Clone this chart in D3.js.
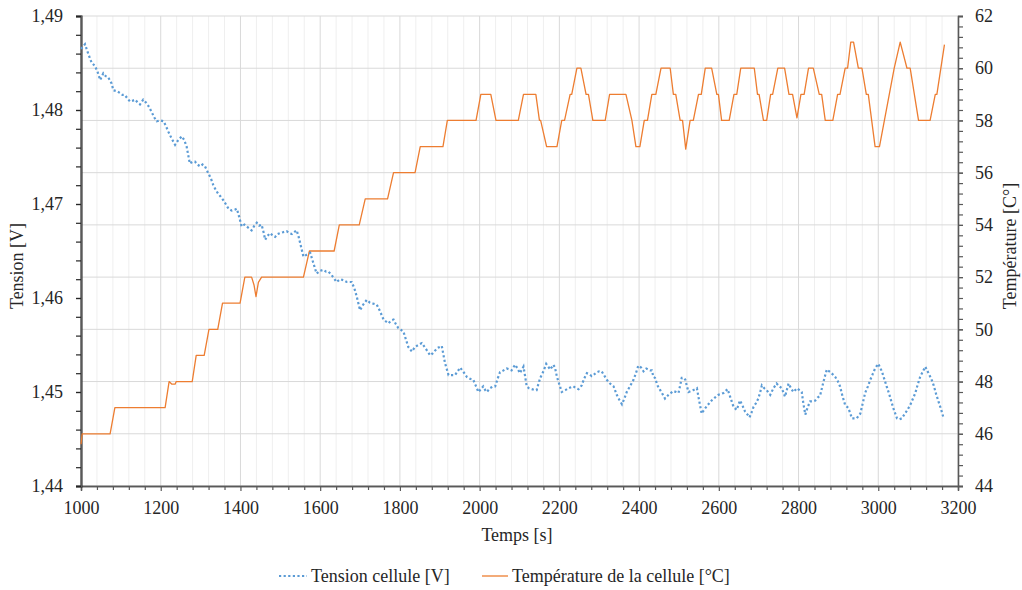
<!DOCTYPE html>
<html><head><meta charset="utf-8">
<script src="https://cdn.jsdelivr.net/npm/d3@7"></script>
<style>
body{margin:0;background:#fff;}
text{font-family:"Liberation Serif","Times New Roman",serif;fill:#262626;}
</style></head><body>
<svg id="c" width="1022" height="590"></svg>
<script>
// ---- data ----
const xTicks = [1000,1200,1400,1600,1800,2000,2200,2400,2600,2800,3000,3200];
const vTicks = [1.44,1.45,1.46,1.47,1.48,1.49];
const vTickLabels = ["1,44","1,45","1,46","1,47","1,48","1,49"];
const tTicks = [44,46,48,50,52,54,56,58,60,62];
const seriesNames = ["Tension cellule [V]","Température de la cellule [°C]"];

const voltTime = [1000,1002,1010,1018,1027,1035,1042,1048,1056,1062,1068,1077,1081,1090,1098,1104,1110,1117,1123,1130,1136,1142,1148,1156,1165,1171,1177,1184,1190,1198,1207,1213,1219,1227,1236,1244,1253,1259,1265,1273,1280,1286,1292,1299,1305,1311,1319,1326,1332,1338,1344,1350,1357,1363,1370,1378,1386,1391,1397,1403,1410,1416,1422,1428,1435,1441,1447,1453,1458,1462,1468,1474,1480,1487,1493,1499,1507,1516,1522,1529,1535,1541,1546,1550,1554,1558,1566,1575,1583,1591,1600,1608,1615,1621,1627,1633,1641,1650,1658,1667,1679,1686,1692,1700,1708,1717,1725,1733,1742,1750,1759,1765,1771,1778,1784,1790,1796,1803,1809,1815,1821,1830,1838,1846,1855,1865,1876,1882,1888,1895,1905,1913,1922,1930,1938,1945,1951,1960,1968,1976,1984,1990,1997,2005,2009,2014,2018,2026,2034,2039,2045,2051,2060,2068,2075,2080,2089,2095,2101,2110,2114,2118,2124,2131,2139,2143,2147,2152,2160,2167,2172,2177,2185,2189,2194,2200,2206,2215,2223,2229,2235,2242,2248,2256,2262,2269,2275,2281,2288,2294,2300,2306,2312,2319,2327,2336,2344,2350,2357,2363,2369,2377,2386,2392,2398,2405,2411,2418,2428,2432,2436,2440,2446,2453,2460,2465,2474,2480,2486,2493,2499,2503,2507,2512,2516,2520,2524,2530,2536,2545,2551,2557,2563,2570,2576,2582,2590,2599,2606,2612,2622,2630,2637,2645,2653,2660,2666,2672,2677,2682,2687,2693,2699,2704,2708,2714,2720,2729,2737,2745,2752,2758,2766,2775,2781,2787,2796,2802,2808,2812,2817,2823,2829,2836,2842,2848,2854,2862,2867,2871,2877,2883,2892,2898,2904,2910,2917,2925,2934,2940,2946,2955,2961,2967,2974,2980,2986,2992,3000,3009,3015,3021,3028,3034,3040,3047,3053,3059,3067,3073,3080,3086,3093,3099,3105,3112,3118,3126,3133,3139,3145,3151,3158,3164];
const voltValue = [1.4865,1.4866,1.4870,1.4860,1.4850,1.4847,1.4840,1.4832,1.4839,1.4836,1.4835,1.4828,1.4821,1.4820,1.4818,1.4816,1.4816,1.4812,1.4809,1.4810,1.4811,1.4808,1.4806,1.4811,1.4807,1.4803,1.4798,1.4792,1.4788,1.4789,1.4788,1.4783,1.4777,1.4770,1.4763,1.4768,1.4772,1.4768,1.4761,1.4743,1.4745,1.4745,1.4742,1.4740,1.4742,1.4740,1.4733,1.4727,1.4720,1.4715,1.4711,1.4708,1.4704,1.4700,1.4695,1.4693,1.4694,1.4695,1.4686,1.4676,1.4678,1.4676,1.4674,1.4672,1.4677,1.4680,1.4677,1.4678,1.4670,1.4662,1.4666,1.4669,1.4667,1.4665,1.4668,1.4669,1.4670,1.4671,1.4669,1.4668,1.4670,1.4672,1.4665,1.4658,1.4651,1.4644,1.4646,1.4648,1.4637,1.4626,1.4629,1.4630,1.4628,1.4628,1.4625,1.4622,1.4617,1.4620,1.4619,1.4617,1.4617,1.4610,1.4601,1.4587,1.4593,1.4598,1.4595,1.4594,1.4593,1.4586,1.4577,1.4575,1.4573,1.4576,1.4577,1.4572,1.4568,1.4566,1.4564,1.4556,1.4548,1.4543,1.4548,1.4550,1.4552,1.4546,1.4539,1.4541,1.4544,1.4547,1.4549,1.4531,1.4518,1.4518,1.4518,1.4522,1.4526,1.4521,1.4516,1.4514,1.4513,1.4507,1.4500,1.4504,1.4506,1.4502,1.4500,1.4504,1.4506,1.4506,1.4514,1.4521,1.4523,1.4525,1.4524,1.4523,1.4529,1.4525,1.4520,1.4527,1.4517,1.4506,1.4504,1.4503,1.4502,1.4502,1.4508,1.4515,1.4522,1.4530,1.4527,1.4524,1.4529,1.4526,1.4516,1.4508,1.4500,1.4502,1.4504,1.4505,1.4506,1.4504,1.4503,1.4507,1.4514,1.4520,1.4519,1.4517,1.4519,1.4521,1.4522,1.4522,1.4518,1.4513,1.4509,1.4506,1.4497,1.4492,1.4487,1.4493,1.4500,1.4506,1.4513,1.4520,1.4528,1.4526,1.4522,1.4525,1.4523,1.4523,1.4516,1.4515,1.4507,1.4502,1.4497,1.4493,1.4497,1.4499,1.4501,1.4500,1.4499,1.4507,1.4515,1.4515,1.4513,1.4506,1.4500,1.4501,1.4502,1.4504,1.4490,1.4477,1.4481,1.4485,1.4488,1.4491,1.4494,1.4497,1.4498,1.4499,1.4503,1.4493,1.4484,1.4481,1.4491,1.4485,1.4479,1.4476,1.4473,1.4478,1.4484,1.4488,1.4493,1.4500,1.4507,1.4504,1.4502,1.4497,1.4504,1.4509,1.4506,1.4504,1.4495,1.4509,1.4504,1.4500,1.4504,1.4502,1.4500,1.4488,1.4476,1.4484,1.4490,1.4490,1.4491,1.4494,1.4496,1.4510,1.4518,1.4524,1.4522,1.4520,1.4516,1.4512,1.4506,1.4496,1.4486,1.4483,1.4472,1.4472,1.4472,1.4477,1.4488,1.4499,1.4506,1.4513,1.4519,1.4525,1.4530,1.4522,1.4514,1.4506,1.4497,1.4488,1.4480,1.4472,1.4471,1.4472,1.4477,1.4481,1.4486,1.4492,1.4499,1.4508,1.4516,1.4522,1.4527,1.4520,1.4514,1.4507,1.4498,1.4490,1.4481,1.4472];

const tempTime = [1000,1003,1073,1085,1211,1221,1228,1236,1239,1279,1289,1309,1321,1343,1355,1399,1411,1428,1434,1439,1445,1453,1558,1573,1635,1648,1698,1713,1769,1784,1838,1851,1908,1919,1991,2003,2028,2041,2097,2110,2141,2150,2153,2168,2194,2206,2213,2227,2231,2244,2254,2267,2273,2284,2315,2326,2367,2382,2392,2402,2413,2421,2432,2442,2455,2478,2486,2492,2503,2509,2517,2528,2536,2549,2556,2566,2582,2595,2599,2607,2626,2638,2645,2655,2689,2697,2701,2712,2720,2730,2735,2748,2765,2776,2785,2796,2806,2814,2825,2837,2852,2858,2867,2886,2898,2904,2917,2923,2931,2938,2950,2959,2970,2975,2992,3003,3040,3055,3072,3080,3101,3130,3143,3147,3166];
const tempValue = [45.6,46,46,47,47,48,47.9,47.9,48,48,49,49,50,50,51,51,52,52,51.7,51.25,51.8,52,52,53,53,54,54,55,55,56,56,57,57,58,58,59,59,58,58,59,59,58,58,57,57,58,58,59,59,60,60,59,59,58,58,59,59,58,57,57,58,58,59,59,60,60,59,59,58,58,56.9,58,58,59,59,60,60,59,59,58,58,59,59,60,60,59,59,58,58,59,59,60,60,59,59,58.1,59,59,60,60,59,59,58,58,59,59,60,60,61,61,60,60,59,59,57,57,60,61,60,60,58,58,59,59,60.9];

// ---- layout ----
const L=81, R=958, T=16, B=486;
const svg=d3.select("#c");
const x=d3.scaleLinear().domain([1000,3200]).range([L,R]);
const yV=d3.scaleLinear().domain([1.44,1.49]).range([B,T]);
const yT=d3.scaleLinear().domain([44,62]).range([B,T]);

// gridlines
const minorX=d3.range(1000,3201,40).filter(v=>v%200!==0);
svg.append("g").selectAll("line").data(minorX).join("line")
  .attr("x1",d=>x(d)).attr("x2",d=>x(d)).attr("y1",T).attr("y2",B)
  .attr("stroke","#efefef").attr("stroke-width",1);
svg.append("g").selectAll("line").data(xTicks).join("line")
  .attr("x1",d=>x(d)).attr("x2",d=>x(d)).attr("y1",T).attr("y2",B)
  .attr("stroke","#d9d9d9").attr("stroke-width",1);
svg.append("g").selectAll("line").data(tTicks).join("line")
  .attr("x1",L).attr("x2",R).attr("y1",d=>yT(d)).attr("y2",d=>yT(d))
  .attr("stroke","#d9d9d9").attr("stroke-width",1);

// axes
const axB=d3.axisBottom(x).tickValues(xTicks).tickSize(5).tickFormat(d3.format("d"));
const gB=svg.append("g").attr("transform",`translate(0,${B})`).call(axB);
gB.append("g").call(d3.axisBottom(x).tickValues(minorX).tickSize(4).tickFormat(""));
const axL=d3.axisLeft(yV).tickValues(vTicks).tickSize(5).tickFormat((d,i)=>vTickLabels[i]);
const gL=svg.append("g").attr("transform",`translate(${L},0)`).call(axL);
gL.append("g").call(d3.axisLeft(yV).tickValues(d3.range(0,26).map(i=>1.44+i*0.002)).tickSize(5).tickFormat(""));
const axR=d3.axisRight(yT).tickValues(tTicks).tickSize(5);
const gR=svg.append("g").attr("transform",`translate(${R},0)`).call(axR);
gR.append("g").call(d3.axisRight(yT).tickValues(d3.range(0,46).map(i=>44+i*0.4)).tickSize(5).tickFormat(""));

svg.selectAll(".domain").attr("stroke","#595959").attr("stroke-width",1.3);
svg.selectAll(".tick line").attr("stroke","#595959").attr("stroke-width",1.2);
gL.select(".domain").attr("stroke","#262626").attr("stroke-width",2);
gL.selectAll(".tick line").attr("stroke","#262626");
svg.selectAll(".tick text").attr("font-family",'"Liberation Serif",serif').attr("font-size",18).attr("fill","#404040");
gB.selectAll(".tick text").attr("dy","1.1em");
gL.selectAll(".tick text").attr("x",-18);
gR.selectAll(".tick text").attr("x",17);

// series
const lineV=d3.line().x((d,i)=>x(voltTime[i])).y(d=>yV(d));
const lineT=d3.line().x((d,i)=>x(tempTime[i])).y(d=>yT(d));
svg.append("path").attr("d",lineT(tempValue)).attr("fill","none")
  .attr("stroke","#ED7D31").attr("stroke-width",1.3).attr("stroke-linejoin","round");
svg.append("path").attr("d",lineV(voltValue)).attr("fill","none")
  .attr("stroke","#5B9BD5").attr("stroke-width",2.2).attr("stroke-dasharray","2.2,2.4");

// titles
svg.append("text").attr("x",517).attr("y",541).attr("text-anchor","middle").attr("font-size",18).text("Temps [s]");
svg.append("text").attr("transform","translate(23,266) rotate(-90)").attr("text-anchor","middle").attr("font-size",18).text("Tension [V]");
svg.append("text").attr("transform","translate(1016,246) rotate(-90)").attr("text-anchor","middle").attr("font-size",18).text("Température [C°]");

// legend
const lg=svg.append("g");
lg.append("line").attr("x1",279).attr("x2",307).attr("y1",576).attr("y2",576)
  .attr("stroke","#5B9BD5").attr("stroke-width",2.2).attr("stroke-dasharray","2.2,2.4");
lg.append("text").attr("x",311).attr("y",582).attr("font-size",18).text(seriesNames[0]);
lg.append("line").attr("x1",482).attr("x2",508).attr("y1",576).attr("y2",576)
  .attr("stroke","#ED7D31").attr("stroke-width",1.3);
lg.append("text").attr("x",512).attr("y",582).attr("font-size",18).text(seriesNames[1]);
</script>
</body></html>
